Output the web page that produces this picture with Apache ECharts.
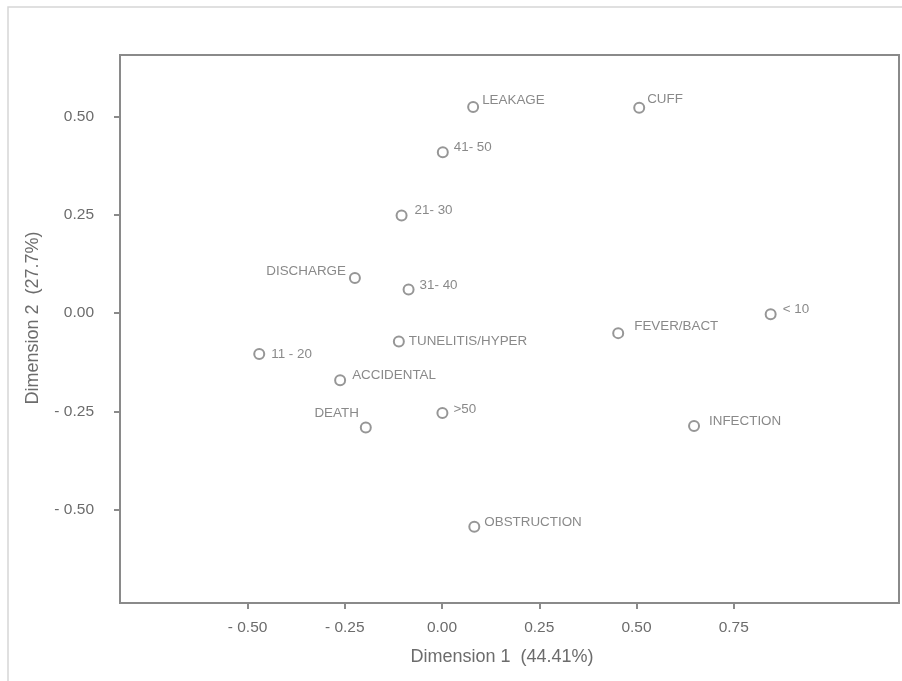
<!DOCTYPE html>
<html>
<head>
<meta charset="utf-8">
<script src="https://cdn.jsdelivr.net/npm/echarts@6/dist/echarts.min.js"></script>
<style>
  html, body { margin: 0; padding: 0; background: #ffffff; }
  #chart { width: 902px; height: 681px; }
</style>
</head>
<body>
<div id="chart"></div>
<script>
// ---- data ----
var categories = ['LEAKAGE', 'CUFF', '41- 50', '21- 30', 'DISCHARGE', '31- 40', '< 10', 'FEVER/BACT',
  'TUNELITIS/HYPER', '11 - 20', 'ACCIDENTAL', 'DEATH', '>50', 'INFECTION', 'OBSTRUCTION'];
var dim1 = [0.080, 0.507, 0.002, -0.104, -0.224, -0.086, 0.845, 0.453,
  -0.111, -0.470, -0.262, -0.196, 0.001, 0.648, 0.083];
var dim2 = [0.524, 0.522, 0.409, 0.248, 0.089, 0.060, -0.003, -0.051,
  -0.072, -0.104, -0.171, -0.291, -0.254, -0.287, -0.543];
var xTicks = [-0.5, -0.25, 0, 0.25, 0.5, 0.75];
var yTicks = [-0.5, -0.25, 0, 0.25, 0.5];
var xName = 'Dimension 1  (44.41%)';
var yName = 'Dimension 2  (27.7%)';

// ---- label placement (style only) ----
var labelStyle = {
  'LEAKAGE': { pos: 'right', off: [3, -7] },
  'CUFF': { pos: 'right', off: [2, -8] },
  '41- 50': { pos: 'right', off: [5, -5] },
  '21- 30': { pos: 'right', off: [7, -5] },
  'DISCHARGE': { pos: 'left', off: [-3, -7] },
  '31- 40': { pos: 'right', off: [5, -4] },
  '< 10': { pos: 'right', off: [6, -5] },
  'FEVER/BACT': { pos: 'right', off: [10, -7] },
  'TUNELITIS/HYPER': { pos: 'right', off: [4, 0] },
  '11 - 20': { pos: 'right', off: [6, 0] },
  'ACCIDENTAL': { pos: 'right', off: [6, -5] },
  'DEATH': { pos: 'left', off: [-1, -14] },
  '>50': { pos: 'right', off: [5, -4] },
  'INFECTION': { pos: 'right', off: [9, -5] },
  'OBSTRUCTION': { pos: 'right', off: [4, -4] }
};

var points = categories.map(function (c, i) {
  return {
    name: c,
    value: [dim1[i], dim2[i]],
    label: { position: labelStyle[c].pos }
  };
});

function fmt(v) {
  return v < 0 ? '- ' + Math.abs(v).toFixed(2) : v.toFixed(2);
}

var axisColor = '#8a8a8a';
var textColor = '#6c6c6c';
var fontFamily = '"Liberation Sans", Arial, Helvetica, sans-serif';

var chart = echarts.init(document.getElementById('chart'), null, { renderer: 'canvas' });
chart.setOption({
  backgroundColor: '#ffffff',
  animation: false,
  graphic: [{
    type: 'rect',
    silent: true,
    shape: { x: 8, y: 7, width: 900, height: 690 },
    style: { fill: 'none', stroke: '#d6d6d6', lineWidth: 1.5 }
  }],
  grid: {
    left: 120, right: 3, top: 55, bottom: 78,
    show: true, borderColor: axisColor, borderWidth: 2, backgroundColor: 'transparent'
  },
  xAxis: {
    type: 'value',
    min: -0.828, max: 1.175,
    name: xName,
    nameLocation: 'middle',
    nameGap: 45,
    nameTextStyle: { color: textColor, fontSize: 18, fontFamily: fontFamily, padding: [0, 15, 0, 0] },
    axisLine: { show: true, onZero: false, lineStyle: { color: axisColor, width: 2 } },
    axisTick: { show: true, length: 6, customValues: xTicks, lineStyle: { color: axisColor, width: 2 } },
    axisLabel: { customValues: xTicks, formatter: fmt, color: textColor, fontSize: 15.5, fontFamily: fontFamily, margin: 17 },
    splitLine: { show: false }
  },
  yAxis: {
    type: 'value',
    min: -0.737, max: 0.656,
    name: yName,
    nameLocation: 'middle',
    nameGap: 78,
    nameTextStyle: { color: textColor, fontSize: 18, fontFamily: fontFamily, padding: [0, 0, 0, 22] },
    axisLine: { show: true, onZero: false, lineStyle: { color: axisColor, width: 2 } },
    axisTick: { show: true, length: 6, customValues: yTicks, lineStyle: { color: axisColor, width: 2 } },
    axisLabel: { customValues: yTicks, formatter: fmt, color: textColor, fontSize: 15.5, fontFamily: fontFamily, margin: 26 },
    splitLine: { show: false }
  },
  series: [{
    type: 'scatter',
    data: points,
    symbol: 'circle',
    symbolSize: 10,
    itemStyle: { color: '#ffffff', borderColor: '#7c7c7c', borderWidth: 2 },
    label: {
      show: true,
      formatter: '{b}',
      distance: 0,
      color: textColor,
      fontSize: 13.4,
      fontFamily: fontFamily
    },
    labelLayout: function (params) {
      var s = labelStyle[categories[params.dataIndex]];
      return { dx: s.off[0], dy: s.off[1], hideOverlap: false };
    }
  }]
});
</script>
</body>
</html>
